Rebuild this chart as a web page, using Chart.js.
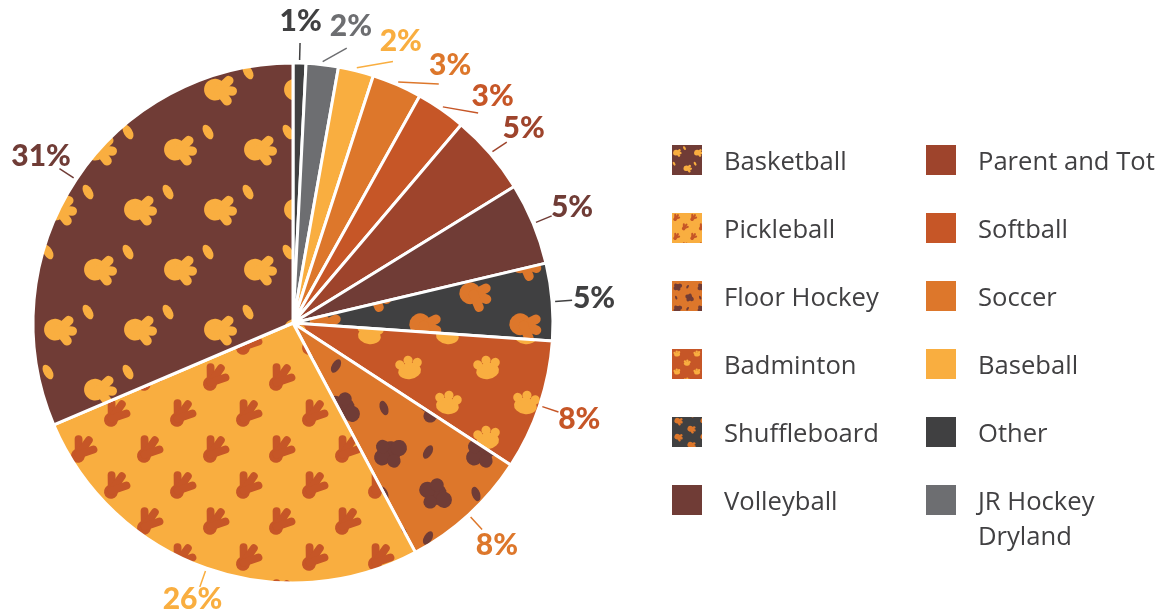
<!DOCTYPE html>
<html lang="en">
<head>
<meta charset="UTF-8">
<title>Program participation</title>
<script src="https://cdn.jsdelivr.net/npm/chart.js"></script>
<style>
    body { margin: 0; background: #fff; overflow: hidden; }
    #wrap { position: relative; width: 1156px; height: 613px; }
    #pie { position: absolute; left: 0; top: 0; }
    .sw { position: absolute; width: 30px; height: 30px; }
    .lbl { position: absolute; font-family: "Open Sans", sans-serif; font-size: 25.6px;
           line-height: 35px; color: #414042; width: 190px; }
</style>
</head>
<body>
<div id="wrap">
    <canvas id="pie" width="1156" height="613"></canvas>
    <div id="legend"></div>
</div>

<script>
    // slices, clockwise from 12 o'clock
    const categories = ['Other', 'JR Hockey Dryland', 'Baseball', 'Soccer', 'Softball', 'Parent and Tot',
        'Volleyball', 'Shuffleboard', 'Badminton', 'Floor Hockey', 'Pickleball', 'Basketball'];
    const shares = [0.8, 2.0, 2.2, 3.1, 3.1, 5.0, 5.1, 4.8, 8.1, 8.0, 26.4, 31.4];
    const colors = ['#404041', '#6d6e71', '#f9ae40', '#dd772b', '#c65627', '#9e442c',
        '#703c36', '#404041', '#c65627', '#dd772b', '#f9ae40', '#703c36'];

    // legend: two columns, read down
    const legendCol1 = ['Basketball', 'Pickleball', 'Floor Hockey', 'Badminton', 'Shuffleboard', 'Volleyball'];
    const legendCol2 = ['Parent and Tot', 'Softball', 'Soccer', 'Baseball', 'Other', 'JR Hockey Dryland'];

    // footprint patterns: background, print colour, tile, prints [x, y, rotation deg, shape]
    const patterns = {
        'Basketball': { bg: '#703c36', fg: '#f9ae40', w: 80, h: 120, scale: 1.45,
            items: [[20, 30, 95, 'dino'], [48, 12, -30, 'kidney'], [60, 90, 95, 'dino'], [8, 72, -30, 'kidney']] },
        'Pickleball': { bg: '#f9ae40', fg: '#c65627', w: 66, h: 72, scale: 1.4,
            items: [[16, 18, 35, 'track'], [49, 54, 35, 'track']] },
        'Floor Hockey': { bg: '#dd772b', fg: '#703c36', w: 92, h: 86, scale: 1.35,
            items: [[22, 22, 10, 'blob'], [68, 64, 70, 'blob'], [60, 22, 30, 'kidney'], [16, 64, -20, 'kidney']] },
        'Badminton': { bg: '#c65627', fg: '#f9ae40', w: 78, h: 70, scale: 1.35,
            items: [[19, 17, -8, 'paw'], [58, 52, 8, 'paw']] },
        'Shuffleboard': { bg: '#404041', fg: '#dd772b', w: 100, h: 62, scale: 1.45,
            items: [[25, 16, 110, 'dino'], [75, 47, 110, 'dino']] }
    };

    function toe(c, x1, y1, x2, y2) {
        c.beginPath();
        c.moveTo(x1, y1);
        c.lineTo(x2, y2);
        c.stroke();
    }

    function drawShape(c, shape, s) {
        c.lineCap = 'round';
        if (shape === 'dino') {
            c.beginPath(); c.arc(0, 3.5 * s, 7.5 * s, 0, Math.PI * 2); c.fill();
            c.lineWidth = 6.5 * s;
            toe(c, 0, 1 * s, -7 * s, -5.5 * s);
            toe(c, 0, 1 * s, 0, -8.5 * s);
            toe(c, 0, 1 * s, 7 * s, -5.5 * s);
        } else if (shape === 'track') {
            c.beginPath(); c.arc(0, 5 * s, 5 * s, 0, Math.PI * 2); c.fill();
            c.lineWidth = 5.6 * s;
            toe(c, 0, 4 * s, -6.5 * s, -5 * s);
            toe(c, 0, 4 * s, 0, -8.5 * s);
            toe(c, 0, 4 * s, 6.5 * s, -5 * s);
        } else if (shape === 'paw') {
            c.beginPath(); c.ellipse(0, 3 * s, 8.5 * s, 6 * s, 0, 0, Math.PI * 2); c.fill();
            [[-6.5, -2.5], [0, -5], [6.5, -2.5]].forEach(p => {
                c.beginPath(); c.arc(p[0] * s, p[1] * s, 3.4 * s, 0, Math.PI * 2); c.fill();
            });
        } else if (shape === 'blob') {
            [[0, 0, 8], [6, -4, 6], [-5, 5, 6], [4, 6, 5], [-6, -3, 5]].forEach(p => {
                c.beginPath(); c.arc(p[0] * s, p[1] * s, p[2] * s, 0, Math.PI * 2); c.fill();
            });
        } else if (shape === 'kidney') {
            c.beginPath(); c.ellipse(0, 0, 3 * s, 5.5 * s, 0, 0, Math.PI * 2); c.fill();
        }
    }

    function makeTile(spec, k) {
        const cv = document.createElement('canvas');
        cv.width = Math.round(spec.w * k);
        cv.height = Math.round(spec.h * k);
        const c = cv.getContext('2d');
        c.fillStyle = spec.bg;
        c.fillRect(0, 0, cv.width, cv.height);
        c.fillStyle = spec.fg;
        c.strokeStyle = spec.fg;
        spec.items.forEach(([x, y, rot, shape]) => {
            for (let dx = -1; dx <= 1; dx++) {
                for (let dy = -1; dy <= 1; dy++) {
                    c.save();
                    c.translate((x + dx * spec.w) * k, (y + dy * spec.h) * k);
                    c.rotate(rot * Math.PI / 180);
                    drawShape(c, shape, spec.scale * k);
                    c.restore();
                }
            }
        });
        return cv;
    }

    const pieCtx = document.getElementById('pie').getContext('2d');
    const fills = categories.map((name, i) => {
        if (!patterns[name]) return colors[i];
        return pieCtx.createPattern(makeTile(patterns[name], 1), 'repeat');
    });

    const total = shares.reduce((a, b) => a + b, 0);
    const pctLabels = shares.map(v => Math.round(v / total * 100) + '%');

    // outside labels with short leader lines, nudged clockwise when they collide
    const outsideLabels = {
        id: 'outsideLabels',
        afterDatasetsDraw(chart) {
            const ctx = chart.ctx;
            const arcs = chart.getDatasetMeta(0).data;
            const placed = [];
            ctx.save();
            ctx.font = '900 30px Lato';
            ctx.textAlign = 'center';
            ctx.textBaseline = 'middle';
            arcs.forEach((arc, i) => {
                const { x, y, startAngle, endAngle, outerRadius } =
                    arc.getProps(['x', 'y', 'startAngle', 'endAngle', 'outerRadius'], true);
                const mid = (startAngle + endAngle) / 2;
                const text = pctLabels[i];
                const w = ctx.measureText(text).width;
                const h = 24;
                const gap = 7;
                let a = mid, box;
                for (let k = 0; k < 300; k++) {
                    const cx = x + Math.cos(a) * (outerRadius + 42);
                    const cy = Math.min(y + Math.sin(a) * (outerRadius + 42), chart.height - h / 2 - 2);
                    box = { x1: cx - w / 2, x2: cx + w / 2, y1: cy - h / 2, y2: cy + h / 2, cx, cy };
                    const hit = placed.some(b => box.x1 < b.x2 + gap && box.x2 > b.x1 - gap &&
                        box.y1 < b.y2 + gap && box.y2 > b.y1 - gap);
                    if (!hit) break;
                    a += 0.004;
                }
                placed.push(box);
                ctx.strokeStyle = colors[i];
                ctx.lineWidth = 1.5;
                ctx.beginPath();
                ctx.moveTo(x + Math.cos(mid) * (outerRadius + 3), y + Math.sin(mid) * (outerRadius + 3));
                ctx.lineTo(x + Math.cos(a) * (outerRadius + 20), y + Math.sin(a) * (outerRadius + 20));
                ctx.stroke();
                ctx.fillStyle = colors[i];
                ctx.fillText(text, box.cx, box.cy);
            });
            ctx.restore();
        }
    };

    new Chart(pieCtx, {
        type: 'pie',
        data: {
            labels: categories,
            datasets: [{
                data: shares,
                backgroundColor: fills,
                borderColor: '#ffffff',
                borderWidth: 3
            }]
        },
        options: {
            responsive: false,
            animation: false,
            radius: 260,
            layout: { padding: { left: 33, right: 603, top: 63, bottom: 30 } },
            plugins: {
                legend: { display: false },
                tooltip: { enabled: false }
            }
        },
        plugins: [outsideLabels]
    });

    // html legend
    const legend = document.getElementById('legend');
    [legendCol1, legendCol2].forEach((col, ci) => {
        col.forEach((name, ri) => {
            const left = 672 + ci * 254;
            const top = 145 + ri * 68;
            const idx = categories.indexOf(name);
            const sw = document.createElement('canvas');
            sw.className = 'sw';
            sw.width = 30; sw.height = 30;
            sw.style.left = left + 'px';
            sw.style.top = top + 'px';
            const sc = sw.getContext('2d');
            sc.fillStyle = patterns[name] ? sc.createPattern(makeTile(patterns[name], 0.26), 'repeat') : colors[idx];
            sc.fillRect(0, 0, 30, 30);
            legend.appendChild(sw);

            const t = document.createElement('div');
            t.className = 'lbl';
            t.textContent = name;
            t.style.left = (left + 52) + 'px';
            t.style.top = (top + 15 - 17.5) + 'px';
            legend.appendChild(t);
        });
    });
</script>
</body>
</html>
